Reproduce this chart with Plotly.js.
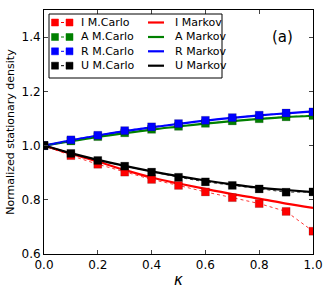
<!DOCTYPE html>
<html><head><meta charset="utf-8">
<script src="https://cdn.plot.ly/plotly-3.0.1.min.js"></script>
<style>html,body{margin:0;padding:0;background:#fff}#c{width:332px;height:299px}</style>
</head><body><div id="c"></div>
<script>
const kappa = [0,0.1,0.2,0.3,0.4,0.5,0.6,0.7,0.8,0.9,1.0];
const I_mc = [1.0,0.963,0.931,0.902,0.875,0.853,0.829,0.808,0.786,0.757,0.684];
const A_mc = [1.0,1.017,1.033,1.047,1.060,1.071,1.082,1.091,1.099,1.106,1.111];
const R_mc = [1.0,1.021,1.038,1.055,1.069,1.081,1.093,1.103,1.112,1.120,1.124];
const U_mc = [1.0,0.971,0.945,0.924,0.902,0.883,0.866,0.853,0.840,0.828,0.829];
const I_mk = [1.0,0.970,0.941,0.910,0.882,0.860,0.840,0.821,0.804,0.786,0.770];
const A_mk = [1.0,1.016,1.032,1.046,1.059,1.070,1.081,1.090,1.098,1.105,1.110];
const R_mk = [1.0,1.019,1.037,1.053,1.067,1.080,1.092,1.102,1.111,1.119,1.126];
const U_mk = [1.0,0.972,0.947,0.925,0.905,0.887,0.871,0.857,0.845,0.836,0.828];
const colors = {I:'#ff0000', A:'#008000', R:'#0000ff', U:'#000000'};
const names = ['I','A','R','U'];
const mc = {I:I_mc, A:A_mc, R:R_mc, U:U_mc};
const mk = {I:I_mk, A:A_mk, R:R_mk, U:U_mk};
const traces = [];
names.forEach((n,i)=>{
  traces.push({x:kappa, y:mk[n], mode:'lines', name:n+' Markov', line:{color:colors[n], width:2.2, shape:'spline'}});
});
names.forEach((n,i)=>{
  traces.push({x:kappa, y:mc[n], mode:'lines+markers', name:n+' M.Carlo', line:{color:colors[n], width:0.8, dash:'dot'}, marker:{symbol:'square', size:8, color:colors[n], line:{color:'rgba(0,0,0,0.35)', width:0.5}}});
});

// Custom legend (matplotlib style) in plot-area paper coords
const L=44, R=313, T=10, B=254;
const px = x => (x-L)/(R-L);
const py = y => (B-y)/(B-T);
const shapes = [], annotations = [];
shapes.push({type:'rect', xref:'paper', yref:'paper', x0:px(49), x1:px(222), y0:py(78), y1:py(14), line:{color:'#000', width:1}, fillcolor:'#fff', layer:'above'});
const rows = [22.5, 37, 51.3, 65.7];
names.forEach((n,i)=>{
  const y = rows[i];
  shapes.push({type:'line', xref:'paper', yref:'paper', x0:px(55), x1:px(69.5), y0:py(y), y1:py(y), line:{color:colors[n], width:1, dash:'dot'}, layer:'above'});
  [55,69.5].forEach(cx=>{
    shapes.push({type:'rect', xref:'paper', yref:'paper', x0:px(cx-3.5), x1:px(cx+3.5), y0:py(y+3.5), y1:py(y-3.5), line:{color:colors[n], width:0.5}, fillcolor:colors[n], layer:'above'});
  });
  annotations.push({xref:'paper', yref:'paper', x:px(79), y:py(y), xanchor:'left', yanchor:'middle', text:n+' M.Carlo', showarrow:false, font:{size:11}});
  shapes.push({type:'line', xref:'paper', yref:'paper', x0:px(148), x1:px(164), y0:py(y), y1:py(y), line:{color:colors[n], width:2.2}, layer:'above'});
  annotations.push({xref:'paper', yref:'paper', x:px(173), y:py(y), xanchor:'left', yanchor:'middle', text:n+' Markov', showarrow:false, font:{size:11}});
});
annotations.push({x:0.885, y:1.40, xref:'x', yref:'y', text:'(a)', showarrow:false, font:{size:15}});

const layout = {
  width:332, height:299,
  margin:{l:L, r:332-R, t:T, b:299-B},
  paper_bgcolor:'#fff', plot_bgcolor:'#fff',
  font:{family:'DejaVu Sans', color:'#000', size:12},
  showlegend:false,
  xaxis:{range:[0,1], tickvals:[0,0.2,0.4,0.6,0.8,1.0], ticktext:['0.0','0.2','0.4','0.6','0.8','1.0'],
    ticks:'inside', ticklen:4, mirror:'ticks', showline:true, linecolor:'#000', linewidth:1, showgrid:false, zeroline:false,
    title:{text:'<i>κ</i>', font:{size:15}, standoff:3}},
  yaxis:{range:[0.6,1.5], tickvals:[0.6,0.8,1.0,1.2,1.4], ticktext:['0.6','0.8','1.0','1.2','1.4'],
    ticks:'inside', ticklen:4, mirror:'ticks', showline:true, linecolor:'#000', linewidth:1, showgrid:false, zeroline:false,
    title:{text:'Normalized stationary density', font:{size:11}, standoff:4}},
  shapes:shapes,
  annotations:annotations
};
Plotly.newPlot('c', traces, layout, {displayModeBar:false, staticPlot:true});
</script></body></html>
